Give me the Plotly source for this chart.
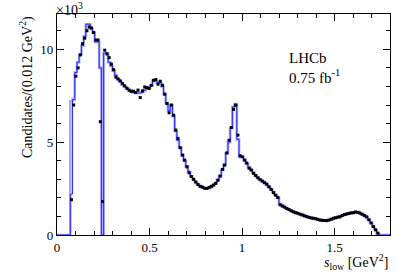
import plotly.graph_objects as go

bin_width = 0.012
x_min, x_max = 0.0, 1.8
n_bins = 150
first_data_bin = 6

# model (fit) in units of 10^3 candidates, one value per bin
model = [0, 0, 0, 0, 0, 0,
         2.2, 7.3, 8.75, 9.3, 9.7, 10.2, 10.7, 11.35, 11.35, 11.1,
         10.9, 10.4, 10.4, 9.0, 0.0, 9.8, 9.8, 9.3, 9.1, 8.85,
         8.6, 8.4, 8.25, 8.1, 8.0, 7.9, 7.8, 7.72, 7.68, 7.65,
         7.65, 7.65, 7.7, 7.8, 7.9, 7.95, 8.05, 8.3, 8.3, 8.2,
         8.2, 8.0, 7.6, 7.1, 6.7, 7.0, 6.4, 5.6, 5.1, 4.7,
         4.3, 4.0, 3.7, 3.4, 3.15, 3.0, 2.85, 2.72, 2.63, 2.57,
         2.52, 2.5, 2.52, 2.58, 2.68, 2.8, 2.97, 3.2, 3.5, 3.8,
         4.4, 5.0, 5.75, 6.9, 7.05, 5.15, 4.2, 4.2, 4.05, 3.85,
         3.65, 3.5, 3.35, 3.2, 3.08, 2.98, 2.9, 2.8, 2.7, 2.58,
         2.45, 2.3, 2.15, 2.0, 1.65, 1.57, 1.5, 1.43, 1.37, 1.31,
         1.25, 1.2, 1.16, 1.12, 1.07, 1.03, 0.99, 0.95, 0.92, 0.89,
         0.87, 0.84, 0.82, 0.8, 0.79, 0.79, 0.81, 0.84, 0.88, 0.92,
         0.96, 1.0, 1.05, 1.09, 1.13, 1.16, 1.19, 1.21, 1.22, 1.2,
         1.16, 1.1, 1.03, 0.95, 0.82, 0.65, 0.46, 0.27, 0.1, 0,
         0, 0, 0, 0, 0]

model_light = list(model)
model_light[6] = 7.2

# data in units of 10^3 candidates, bins 6..144
data = [1.9, 7.0, 8.55, 9.0, 9.7, 10.3, 10.6, 11.0, 11.2, 11.15,
        10.9, 10.5, 10.5, 6.1, 1.8, 9.95, 9.75, 9.55, 9.2, 8.9,
        8.5, 8.4, 8.3, 8.15, 8.03, 7.9, 7.8, 7.74, 7.74, 7.67,
        7.8, 7.4, 7.76, 7.97, 7.94, 7.89, 8.06, 8.33, 8.37, 8.12,
        8.28, 8.06, 7.58, 7.08, 6.58, 7.0, 6.45, 5.65, 5.2, 4.7,
        4.3, 4.03, 3.67, 3.35, 3.15, 3.0, 2.85, 2.72, 2.62, 2.58,
        2.52, 2.51, 2.56, 2.62, 2.69, 2.78, 2.95, 3.17, 3.53, 3.76,
        4.42, 5.1, 5.79, 6.76, 6.99, 5.38, 4.27, 4.21, 4.03, 3.87,
        3.6, 3.5, 3.32, 3.2, 3.08, 2.98, 2.9, 2.82, 2.74, 2.6,
        2.45, 2.28, 2.14, 2.02, 1.63, 1.56, 1.5, 1.43, 1.37, 1.3,
        1.25, 1.2, 1.17, 1.12, 1.08, 1.03, 0.99, 0.95, 0.92, 0.9,
        0.88, 0.84, 0.8, 0.79, 0.78, 0.77, 0.8, 0.85, 0.9, 0.93,
        0.96, 0.98, 1.05, 1.1, 1.13, 1.16, 1.19, 1.2, 1.24, 1.22,
        1.18, 1.12, 1.05, 0.98, 0.82, 0.65, 0.45, 0.28, 0.1]

edges = [x_min + i * bin_width for i in range(n_bins + 1)]
centers = [x_min + (i + 0.5) * bin_width for i in range(n_bins)]
data_x = centers[first_data_bin:first_data_bin + len(data)]

FONT = "Liberation Serif"

fig = go.Figure()
fig.add_trace(go.Scatter(x=edges, y=model_light + [model_light[-1]], mode="lines",
                         line=dict(shape="hv", color="#a6a6ff", width=2.6),
                         hoverinfo="skip", showlegend=False))
fig.add_trace(go.Scatter(x=edges, y=model + [model[-1]], mode="lines",
                         line=dict(shape="hv", color="#2b2bff", width=1),
                         showlegend=False))
fig.add_trace(go.Scatter(x=data_x, y=data, mode="markers",
                         marker=dict(color="black", size=3.0, symbol="square"),
                         showlegend=False))

axis_common = dict(showline=True, linecolor="black", linewidth=1.3, mirror="allticks",
                   ticks="inside", ticklen=7, tickwidth=1, tickcolor="black",
                   showgrid=False, zeroline=False,
                   tickfont=dict(family=FONT, size=13, color="black"))

fig.update_xaxes(range=[x_min, x_max], tickvals=[0, 0.5, 1, 1.5],
                 ticktext=["0", "0.5", "1", "1.5"],
                 minor=dict(dtick=0.1, tick0=0, ticks="inside", ticklen=4, tickcolor="black"),
                 **axis_common)
fig.update_yaxes(range=[0, 11.9], tickvals=[0, 5, 10], ticktext=["0", "5", "10"],
                 minor=dict(dtick=1, tick0=0, ticks="inside", ticklen=4, tickcolor="black"),
                 **axis_common)

fig.update_layout(
    width=411, height=280,
    margin=dict(l=57, r=21, t=14, b=45),
    plot_bgcolor="white", paper_bgcolor="white",
    font=dict(family=FONT, color="black"),
    annotations=[
        dict(text="Candidates/(0.012 GeV<sup>2</sup>)", textangle=-90,
             xref="paper", yref="paper", x=-0.093, y=1.0, xanchor="center", yanchor="top",
             showarrow=False, font=dict(family=FONT, size=14)),
        dict(text="<i>s</i><sub>low</sub> [GeV<sup>2</sup>]", xref="paper", yref="paper",
             x=1.0, y=-0.122, xanchor="right", yanchor="middle", showarrow=False,
             font=dict(family=FONT, size=14)),
        dict(text="×10<sup>3</sup>", xref="paper", yref="paper", x=-0.005, y=1.0,
             xanchor="left", yanchor="bottom", yshift=-5, borderpad=0, showarrow=False,
             font=dict(family=FONT, size=14)),
        dict(text="LHCb<br>0.75 fb<sup>-1</sup>", xref="paper", yref="paper",
             x=0.69, y=0.845, xanchor="left", yanchor="top", align="left", showarrow=False,
             font=dict(family=FONT, size=15)),
    ],
)

fig.write_html("out.html", config={"displayModeBar": False},
               post_script="document.body.style.margin='0';")
